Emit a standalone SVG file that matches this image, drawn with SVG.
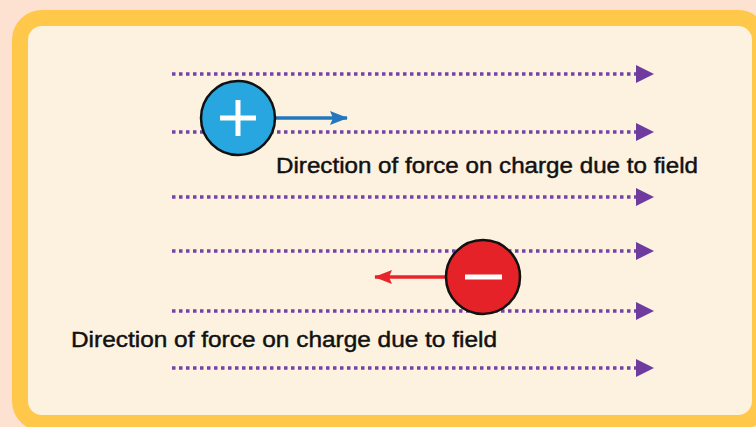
<svg xmlns="http://www.w3.org/2000/svg" width="756" height="427" viewBox="0 0 756 427">
<style>
.field{stroke:#7443A6;stroke-width:3.5;stroke-dasharray:3.5 3.5;fill:none}
.lbl{font-family:"Liberation Sans",Arial,sans-serif;font-size:22px;fill:#111;stroke:#111;stroke-width:0.45}
</style>
<defs>
<marker id="fa" viewBox="0 0 18 18" refX="0" refY="9" markerWidth="18" markerHeight="18" markerUnits="userSpaceOnUse" orient="auto">
<path d="M0,0 L18,9 L0,18 Z" fill="#6E3C9F"/>
</marker>
<marker id="ba" viewBox="0 0 18 14" refX="17" refY="7" markerWidth="18" markerHeight="14" markerUnits="userSpaceOnUse" orient="auto">
<path d="M0,0 L18,7 L0,14 L3,7 Z" fill="#2277BE"/>
</marker>
<marker id="ra" viewBox="0 0 18 14" refX="17" refY="7" markerWidth="18" markerHeight="14" markerUnits="userSpaceOnUse" orient="auto">
<path d="M0,0 L18,7 L0,14 L3,7 Z" fill="#E8252B"/>
</marker>
</defs>
<rect width="756" height="427" fill="#FDE2D2"/>
<rect x="20" y="18" width="740" height="405" rx="22" fill="#FDF2E0" stroke="#FFC84A" stroke-width="16"/>
<g id="connectors">
<line class="field" x1="172" y1="74" x2="636" y2="74" marker-end="url(#fa)"/>
<line class="field" x1="172" y1="132" x2="636" y2="132" marker-end="url(#fa)"/>
<line class="field" x1="172" y1="197" x2="636" y2="197" marker-end="url(#fa)"/>
<line class="field" x1="172" y1="251" x2="636" y2="251" marker-end="url(#fa)"/>
<line class="field" x1="172" y1="311" x2="636" y2="311" marker-end="url(#fa)"/>
<line class="field" x1="172" y1="368" x2="636" y2="368" marker-end="url(#fa)"/>
<line x1="274" y1="118" x2="347" y2="118" stroke="#2277BE" stroke-width="3.5" marker-end="url(#ba)"/>
<line x1="446" y1="277" x2="375" y2="277" stroke="#E8252B" stroke-width="3.5" marker-end="url(#ra)"/>
</g>
<g id="positive">
<circle cx="238" cy="118" r="37" fill="#27A6DF" stroke="#111" stroke-width="2.5"/>
<path d="M220,118 H256 M238,100 V136" stroke="#fff" stroke-width="5"/>
</g>
<g id="negative">
<circle cx="483" cy="277" r="37" fill="#E42228" stroke="#111" stroke-width="2.5"/>
<path d="M465,277 H502" stroke="#fff" stroke-width="5"/>
</g>
<g id="label1"><text class="lbl" x="276" y="173" textLength="422" lengthAdjust="spacingAndGlyphs">Direction of force on charge due to field</text></g>
<g id="label2"><text class="lbl" x="71" y="347" textLength="426" lengthAdjust="spacingAndGlyphs">Direction of force on charge due to field</text></g>
</svg>
